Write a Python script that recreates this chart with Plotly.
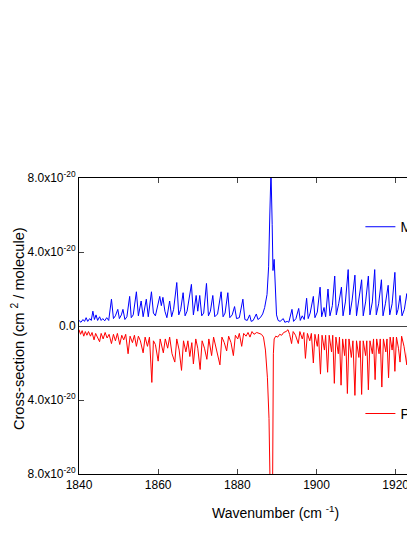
import plotly.graph_objects as go

# Measured spectrum (wavenumber in cm-1, cross-section in units of 1e-20 cm2/molecule)
meas_wn = [1840.0, 1840.5, 1841.0, 1841.4, 1841.8, 1842.2, 1842.7, 1843.1, 1843.5, 1843.9,
           1844.3, 1844.7, 1845.2, 1845.6, 1846.0, 1846.5, 1847.0, 1847.5, 1848.2, 1848.7,
           1849.2, 1849.8, 1850.2, 1850.7, 1851.1, 1851.6, 1852.1, 1852.8, 1853.2, 1853.7,
           1854.5, 1855.0, 1855.7, 1856.2, 1857.0, 1857.5, 1858.3, 1858.8, 1859.3, 1859.8,
           1860.4, 1860.8, 1861.2, 1861.7, 1862.2, 1862.9, 1863.4, 1863.9, 1864.7, 1865.2,
           1865.7, 1866.3, 1866.8, 1867.3, 1868.4, 1868.9, 1869.6, 1870.0, 1870.5, 1871.0,
           1871.5, 1872.2, 1872.7, 1873.2, 1873.8, 1874.3, 1875.0, 1875.9, 1876.4, 1876.9,
           1877.6, 1878.1, 1878.7, 1879.3, 1879.8, 1880.5, 1881.4, 1881.9, 1882.5, 1883.1,
           1883.5, 1884.0, 1884.8, 1885.2, 1885.8, 1886.4, 1886.9, 1887.5, 1887.9, 1888.2,
           1888.5, 1888.8, 1889.0, 1889.3, 1889.6, 1889.9, 1890.3, 1890.8, 1891.6, 1892.0,
           1892.6, 1893.0, 1893.8, 1894.2, 1894.8, 1895.5, 1895.9, 1896.4, 1896.9, 1897.5,
           1897.9, 1898.4, 1899.2, 1899.6, 1900.2, 1900.9, 1901.3, 1901.9, 1902.3, 1902.9,
           1903.4, 1904.0, 1904.6, 1905.0, 1905.6, 1906.3, 1906.7, 1907.3, 1908.0, 1908.4,
           1909.0, 1909.7, 1910.1, 1910.7, 1911.4, 1911.8, 1912.4, 1913.1, 1913.5, 1914.1,
           1914.7, 1915.1, 1915.7, 1916.4, 1916.8, 1917.4, 1918.1, 1918.5, 1919.1, 1919.8,
           1920.2, 1920.6, 1921.1, 1921.6, 1922.2, 1922.8, 1923.3, 1923.8, 1924.4, 1924.9,
           1925.5, 1926.1, 1926.6, 1927.2]
meas_val = [0.30, 0.20, 0.35, 0.25, 0.45, 0.25, 0.40, 0.30, 0.80, 0.35,
            0.60, 0.30, 0.50, 0.30, 0.40, 0.28, 0.45, 0.30, 1.45, 0.40,
            0.55, 0.90, 0.40, 0.60, 0.90, 0.35, 0.50, 1.60, 0.45, 0.60,
            1.85, 0.55, 1.35, 0.50, 1.45, 0.50, 1.85, 0.70, 0.55, 1.00,
            1.60, 1.10, 1.55, 0.80, 0.45, 1.35, 0.50, 0.90, 2.35, 0.60,
            0.90, 1.80, 0.55, 0.80, 2.25, 0.60, 1.65, 0.80, 1.65, 0.55,
            0.70, 2.30, 0.55, 0.80, 1.65, 0.50, 0.65, 1.85, 0.50, 0.70,
            1.80, 0.45, 0.60, 1.05, 0.40, 0.45, 1.45, 0.35, 0.30, 0.60,
            0.25, 0.30, 0.65, 0.35, 0.45, 0.65, 1.00, 1.70, 3.20, 6.00,
            8.40, 5.50, 3.00, 3.60, 1.60, 0.60, 0.30, 0.25, 0.40, 0.20,
            0.25, 0.20, 0.90, 0.25, 0.40, 0.95, 0.30, 0.55, 0.35, 1.50,
            0.40, 0.70, 1.60, 0.45, 0.75, 2.10, 0.50, 1.00, 0.50, 2.00,
            0.55, 1.10, 2.70, 0.60, 1.20, 2.10, 0.55, 1.30, 3.05, 0.60,
            1.40, 2.75, 0.55, 1.40, 2.50, 0.55, 1.30, 2.70, 0.60, 1.30,
            3.05, 0.60, 1.20, 2.50, 0.55, 1.20, 2.20, 0.60, 1.20, 2.90,
            0.60, 0.90, 1.65, 0.55, 0.90, 1.75, 0.60, 0.80, 1.40, 0.50,
            0.80, 1.50, 0.50, 0.90]

# PNNL reference spectrum, plotted inverted (negative values)
pnnl_wn = [1840.0, 1840.4, 1840.8, 1841.2, 1841.6, 1842.0, 1842.4, 1842.9, 1843.3, 1843.8,
           1844.2, 1844.7, 1845.2, 1845.6, 1846.1, 1846.6, 1847.1, 1847.6, 1848.2, 1848.7,
           1849.2, 1849.7, 1850.3, 1850.8, 1851.3, 1851.8, 1852.4, 1852.9, 1853.5, 1854.0,
           1854.5, 1855.0, 1855.5, 1856.2, 1856.7, 1857.3, 1857.8, 1858.4, 1858.8, 1859.3,
           1860.0, 1860.5, 1861.3, 1861.8, 1862.4, 1862.9, 1863.5, 1864.2, 1864.7, 1865.3,
           1865.9, 1866.4, 1867.0, 1867.5, 1868.0, 1868.5, 1868.9, 1869.5, 1870.0, 1870.6,
           1871.1, 1871.7, 1872.3, 1872.8, 1873.5, 1874.0, 1874.7, 1875.6, 1876.1, 1876.7,
           1877.3, 1877.8, 1878.4, 1879.0, 1879.5, 1880.1, 1880.5, 1881.1, 1881.6, 1882.2,
           1882.7, 1883.2, 1883.7, 1884.2, 1884.9, 1885.5, 1886.1, 1886.6, 1887.1, 1887.6,
           1888.0, 1888.3, 1888.9, 1889.1, 1889.3, 1889.7, 1890.2, 1890.7, 1891.2, 1891.7,
           1892.3, 1892.8, 1893.2, 1893.7, 1894.1, 1894.7, 1895.4, 1895.8, 1896.4, 1896.8,
           1897.2, 1897.7, 1898.3, 1898.7, 1899.2, 1899.6, 1900.2, 1900.5, 1901.0, 1901.4,
           1902.0, 1902.3, 1902.8, 1903.2, 1903.8, 1904.1, 1904.5, 1904.9, 1905.5, 1905.8,
           1906.2, 1906.6, 1907.1, 1907.4, 1907.8, 1908.2, 1908.8, 1909.2, 1909.7, 1910.1,
           1910.7, 1911.0, 1911.4, 1911.8, 1912.4, 1912.7, 1913.1, 1913.5, 1914.1, 1914.4,
           1914.8, 1915.2, 1915.8, 1916.1, 1916.5, 1916.9, 1917.5, 1917.8, 1918.2, 1918.6,
           1919.1, 1919.4, 1919.8, 1920.2, 1920.7, 1921.1, 1921.5, 1922.1, 1922.8, 1923.2,
           1923.8, 1924.3, 1924.7, 1925.5, 1926.0, 1926.5, 1927.2]
pnnl_val = [-0.20, -0.45, -0.25, -0.55, -0.30, -0.50, -0.30, -0.55, -0.35, -0.75,
            -0.40, -0.60, -0.85, -0.40, -0.70, -0.35, -0.65, -0.45, -0.95, -0.45,
            -0.80, -0.40, -1.00, -0.50, -0.75, -0.45, -1.50, -0.55, -0.90, -0.50,
            -1.10, -0.55, -0.80, -1.45, -0.60, -1.10, -0.60, -3.05, -0.80, -1.00,
            -1.90, -0.70, -1.45, -0.70, -1.20, -0.60, -1.50, -1.95, -0.70, -1.30,
            -2.40, -0.80, -1.40, -0.80, -1.65, -0.90, -2.05, -0.70, -1.20, -2.35,
            -0.80, -1.20, -1.80, -0.70, -1.60, -0.60, -1.30, -2.10, -0.60, -0.90,
            -1.35, -0.55, -0.90, -1.60, -0.50, -0.70, -0.40, -1.10, -0.40, -0.55,
            -0.35, -0.60, -0.30, -0.45, -0.35, -0.40, -0.45, -0.60, -1.30, -2.80,
            -5.00, -9.00, -9.00, -1.50, -0.70, -0.55, -0.60, -0.45, -0.50, -0.35,
            -0.30, -0.20, -0.45, -0.95, -0.30, -0.50, -0.95, -0.30, -0.70, -0.35,
            -1.75, -0.40, -0.80, -0.40, -2.00, -0.45, -1.10, -0.45, -2.60, -0.50,
            -1.30, -0.50, -2.50, -0.50, -1.40, -0.50, -3.10, -0.60, -1.50, -0.60,
            -3.20, -0.70, -1.60, -0.70, -3.65, -0.70, -1.70, -0.80, -3.75, -0.80,
            -1.70, -0.80, -3.70, -0.80, -1.60, -0.80, -3.45, -0.80, -1.50, -0.70,
            -2.90, -0.70, -1.50, -0.70, -3.30, -0.70, -1.40, -0.70, -2.80, -0.60,
            -1.30, -0.60, -2.45, -0.60, -1.20, -1.95, -0.55, -1.10, -2.10, -0.55,
            -1.00, -1.85, -0.50, -1.20, -0.50, -1.60, -0.60]

y_tickvals = [-8, -4, 0, 4, 8]
y_ticktext = ["8.0x10<sup>-20</sup>", "4.0x10<sup>-20</sup>", "0.0",
              "4.0x10<sup>-20</sup>", "8.0x10<sup>-20</sup>"]
x_tickvals = [1840, 1860, 1880, 1900, 1920]

FONT = "Liberation Sans, Arial, sans-serif"

fig = go.Figure()
fig.add_trace(go.Scatter(x=meas_wn, y=meas_val, mode="lines", name="Measured",
                         line=dict(color="#0000ff", width=1), legend="legend"))
fig.add_trace(go.Scatter(x=pnnl_wn, y=pnnl_val, mode="lines", name="PNNL",
                         line=dict(color="#ff0000", width=1), legend="legend2"))

fig.update_layout(
    width=415, height=537,
    margin=dict(l=71, r=0, t=170, b=71, autoexpand=False),
    paper_bgcolor="white", plot_bgcolor="white",
    font=dict(family=FONT, size=12, color="black"),
    showlegend=True,
    legend=dict(x=0.818, y=0.834, xanchor="left", yanchor="middle",
                bgcolor="rgba(0,0,0,0)", font=dict(size=14), itemwidth=30),
    legend2=dict(x=0.818, y=0.203, xanchor="left", yanchor="middle",
                 bgcolor="rgba(0,0,0,0)", font=dict(size=14), itemwidth=30),
    xaxis=dict(range=[1840, 1926.9], tickvals=x_tickvals, ticks="inside", ticklen=5,
               showline=True, linecolor="black", linewidth=1, mirror="ticks",
               showgrid=False, zeroline=False, tickfont=dict(size=12), automargin=False),
    yaxis=dict(range=[-8, 8], tickvals=y_tickvals, ticktext=y_ticktext,
               ticks="inside", ticklen=5, showline=True, linecolor="black",
               linewidth=1, showgrid=False, zeroline=True, zerolinecolor="#444",
               zerolinewidth=1, tickfont=dict(size=12), automargin=False),
    annotations=[
        dict(text="Wavenumber (cm <sup>-1</sup>)", xref="paper", yref="paper",
             x=0.570, y=-0.128, xanchor="center", yanchor="middle", showarrow=False,
             font=dict(size=14)),
        dict(text="Cross-section (cm <sup>2</sup> / molecule)", xref="paper", yref="paper",
             x=-0.177, y=0.49, xanchor="center", yanchor="middle", showarrow=False,
             textangle=-90, font=dict(size=14.6)),
    ],
)

fig.write_html("out.html")
